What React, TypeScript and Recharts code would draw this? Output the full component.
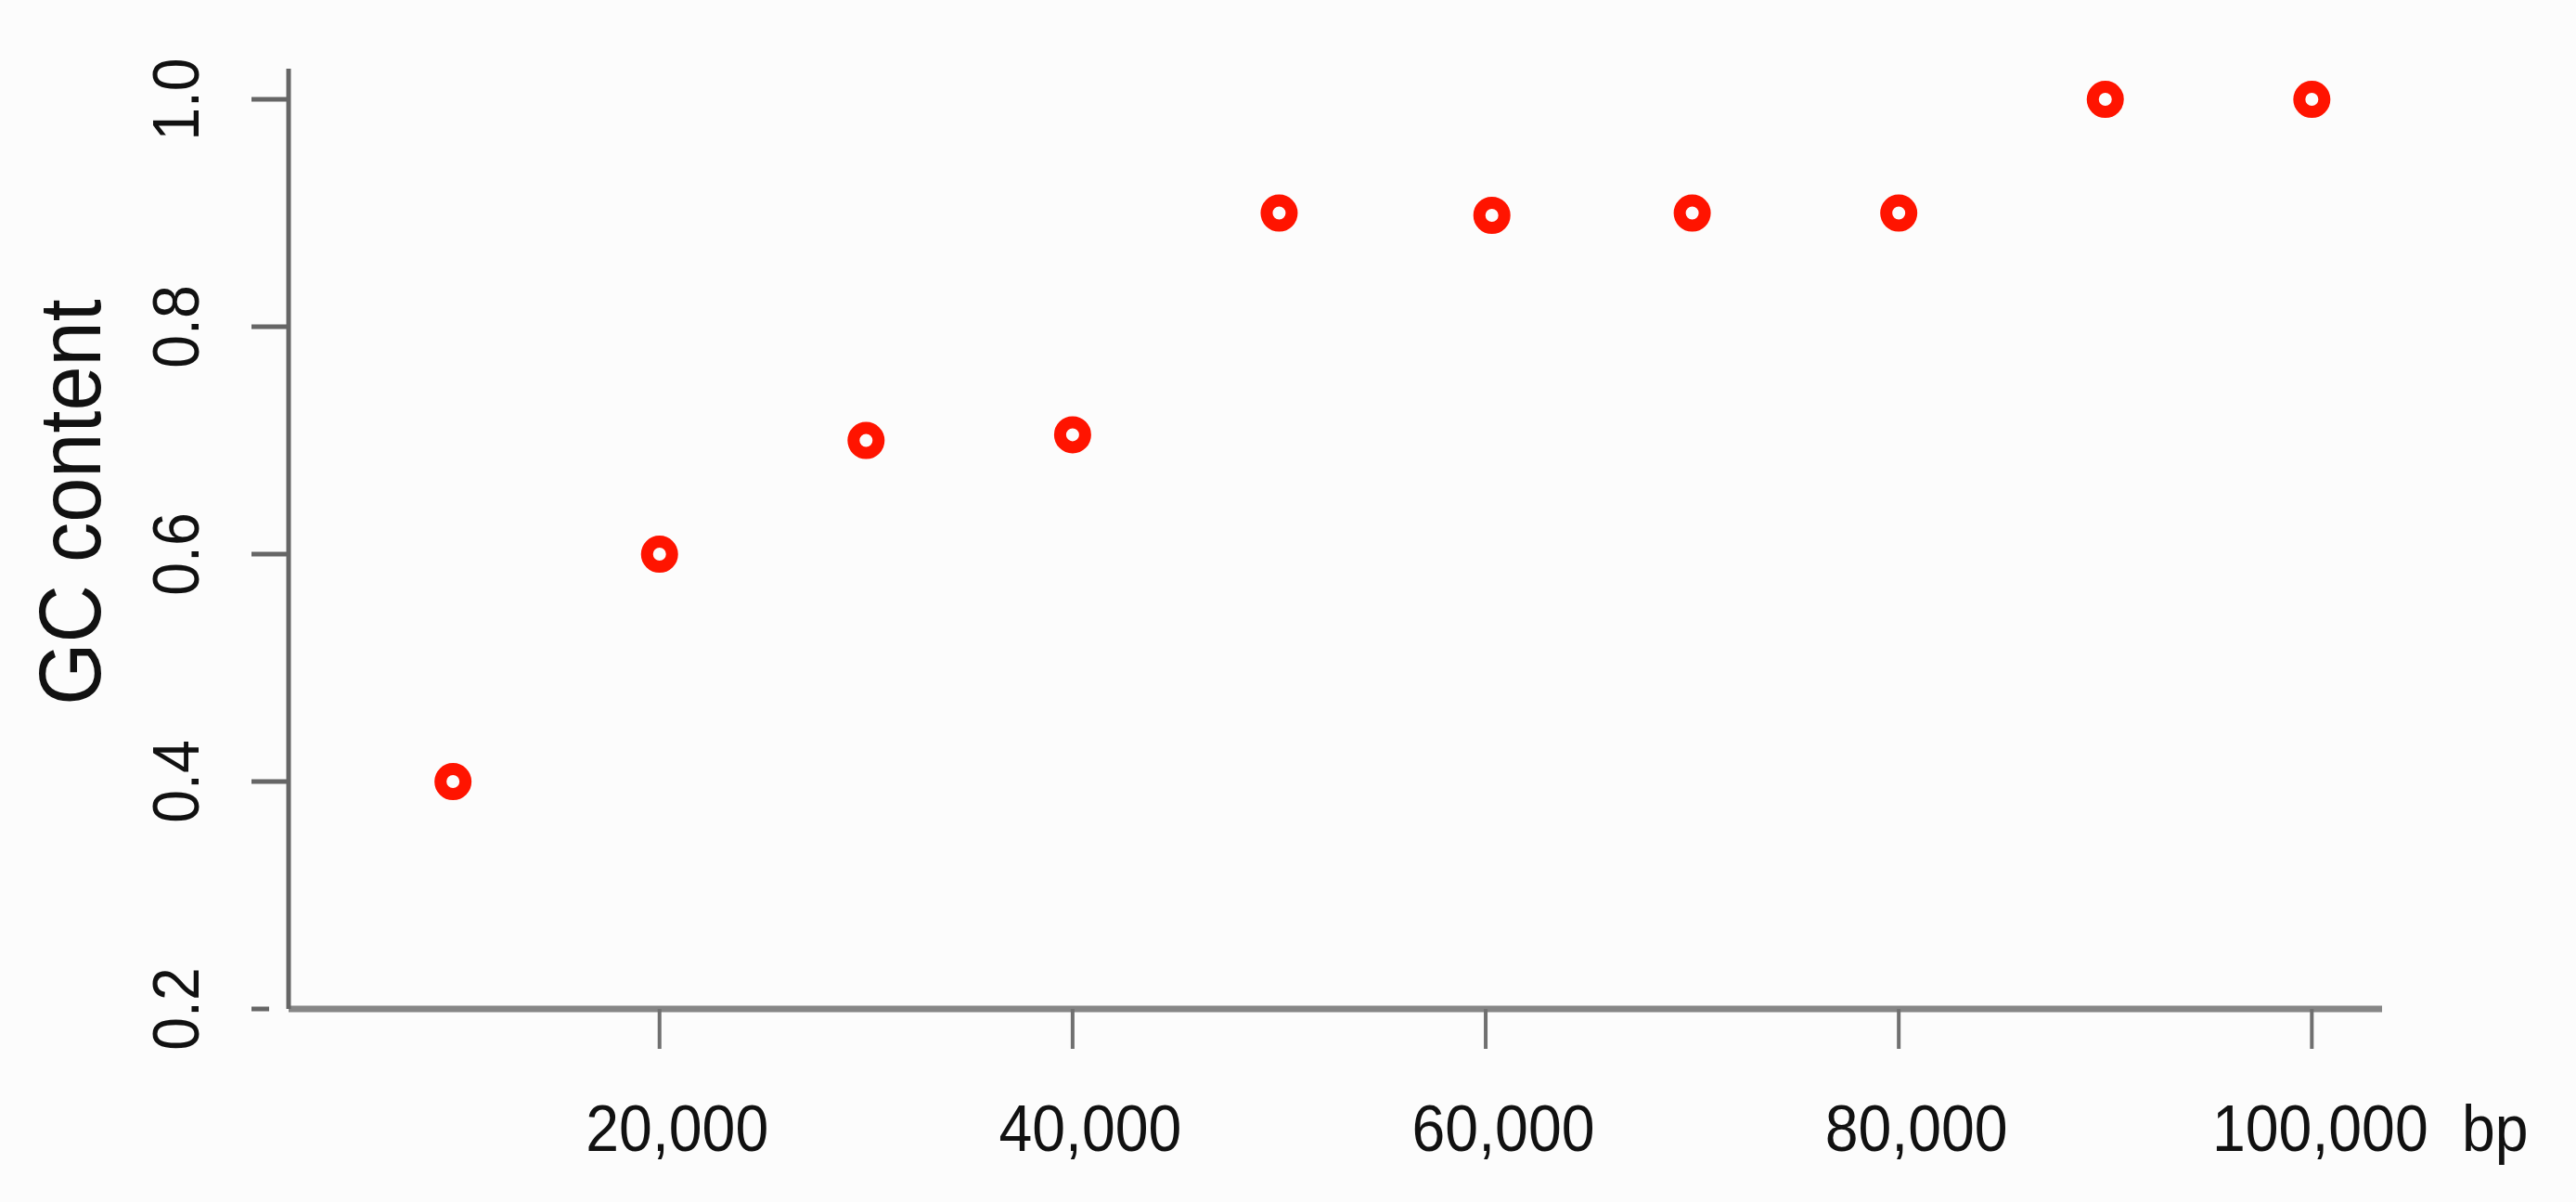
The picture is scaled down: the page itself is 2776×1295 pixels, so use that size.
import React from 'react';
import { ScatterChart, Scatter, XAxis, YAxis } from 'recharts';

const positions: number[] = [10000, 20000, 30000, 40000, 50000, 60300, 70000, 80000, 90000, 100000];
const gcContent: number[] = [0.4, 0.6, 0.7, 0.705, 0.9, 0.898, 0.9, 0.9, 1.0, 1.0];
const xTicks: number[] = [20000, 40000, 60000, 80000, 100000];
const yTicks: number[] = [0.2, 0.4, 0.6, 0.8, 1.0];
const xUnit = 'bp';
const yTitle = 'GC content';

const data = positions.map((p, i) => ({ x: p, y: gcContent[i] }));

const FONT = 'Liberation Sans, Arial, Helvetica, sans-serif';

const XTick = (props: any) => {
  const { x, y, payload } = props;
  const dx = payload.value >= 100000 ? 9 : 19;
  return (
    <text
      transform={`translate(${x + dx}, ${y}) scale(0.92, 1)`}
      textAnchor="middle"
      fontFamily={FONT}
      fontSize={70}
      fill="#111"
    >
      {payload.value.toLocaleString('en-US')}
    </text>
  );
};

const YTick = (props: any) => {
  const { x, y, payload } = props;
  const isBottom = payload.value <= 0.2 + 1e-9;
  return (
    <g>
      <line
        x1={x + 57}
        x2={isBottom ? x + 76 : x + 97}
        y1={y}
        y2={y}
        stroke="#666"
        strokeWidth={5}
      />
      <text
        transform={`translate(${x}, ${y}) rotate(-90) scale(0.92, 1)`}
        textAnchor="middle"
        fontFamily={FONT}
        fontSize={70}
        fill="#111"
      >
        {payload.value.toFixed(1)}
      </text>
    </g>
  );
};

const Ring = (props: any) => {
  const { cx, cy } = props;
  return <circle cx={cx} cy={cy} r={13.5} fill="none" stroke="#ff1400" strokeWidth={13} />;
};

export default function App() {
  return (
    <div style={{ position: 'absolute', left: 0, top: 0, width: 2776, height: 1295, background: '#fcfcfc' }}>
      <ScatterChart width={2776} height={1295} margin={{ top: 74, right: 209, left: 0, bottom: 0 }}>
        <XAxis
          type="number"
          dataKey="x"
          domain={[2040, 103400]}
          ticks={xTicks}
          allowDataOverflow
          height={208}
          tickSize={43}
          tickMargin={110}
          axisLine={{ stroke: '#868686', strokeWidth: 7 }}
          tickLine={{ stroke: '#707070', strokeWidth: 4 }}
          tick={<XTick />}
          label={{
            content: (p: any) => {
              const vb = p.viewBox;
              return (
                <text
                  transform={`translate(${vb.x + vb.width + 86}, 1240) scale(0.92, 1)`}
                  fontFamily={FONT}
                  fontSize={70}
                  fill="#111"
                >
                  {xUnit}
                </text>
              );
            },
          }}
        />
        <YAxis
          type="number"
          dataKey="y"
          domain={[0.2, 1.027]}
          ticks={yTicks}
          allowDataOverflow
          width={311}
          tickSize={40}
          tickMargin={57}
          axisLine={{ stroke: '#666', strokeWidth: 5 }}
          tickLine={false}
          tick={<YTick />}
          label={{
            content: () => (
              <text
                transform={`translate(108, 541) rotate(-90) scale(0.92, 1)`}
                textAnchor="middle"
                fontFamily={FONT}
                fontSize={94}
                fill="#111"
              >
                {yTitle}
              </text>
            ),
          }}
        />
        <Scatter data={data} shape={<Ring />} isAnimationActive={false} />
      </ScatterChart>
    </div>
  );
}
